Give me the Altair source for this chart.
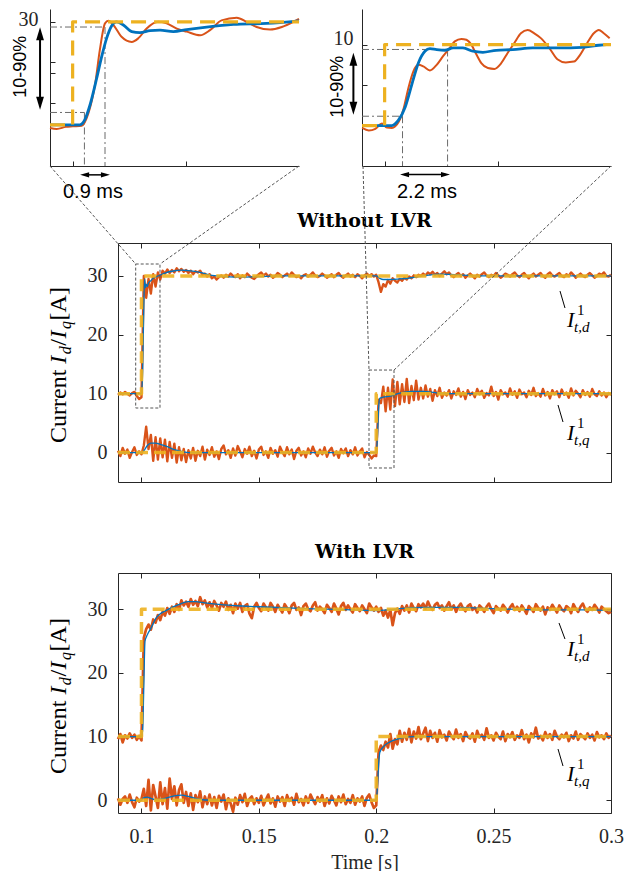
import altair as alt
import pandas as pd

ORANGE = "#D95319"
BLUE = "#0072BD"
YELLOW = "#EDB120"
AXC = "#262626"
DGRAY = "#6b6b6b"
SERIF = "Liberation Serif"
SANS = "Liberation Sans"

# ---------------- data ----------------
# sampling instants of the measured currents (ms)
T_MS = list(range(90, 301))

# Without LVR - measured d current
OD1 = [9.8, 10.2, 9.9, 10.3, 10.0, 9.7, 10.1, 10.3, 9.6, 9.1,
       9.4, 30.0, 26.3, 29.5, 27.0, 30.3, 28.2, 30.6, 29.4, 30.9,
       30.4, 31.1, 30.5, 31.0, 30.6, 31.3, 30.8, 31.2, 30.7, 31.0,
       30.5, 30.9, 30.3, 30.8, 30.6, 30.9, 30.2, 30.4, 29.9, 30.3,
       29.6, 29.9, 29.4, 29.8, 30.1, 29.7, 30.2, 29.9, 30.4, 30.0,
       29.8, 30.3, 29.6, 30.1, 29.8, 30.4, 30.0, 29.7, 29.5, 29.9,
       30.3, 30.6, 30.1, 30.4, 29.9, 30.2, 29.7, 30.0, 30.5, 30.2,
       29.8, 30.1, 30.4, 30.0, 30.6, 30.2, 29.8, 30.0, 29.6, 30.1,
       30.3, 29.9, 30.2, 30.6, 30.1, 29.8, 30.0, 30.4, 30.1, 29.7,
       30.0, 30.3, 29.8, 30.2, 30.5, 30.0, 29.7, 30.1, 30.4, 29.9,
       30.2, 29.8, 30.3, 30.0, 29.6, 30.1, 30.4, 30.0, 30.3, 29.9,
       30.2, 28.9, 27.3, 28.6, 28.2, 29.3, 28.7, 29.6, 29.2, 28.9,
       29.5, 29.2, 29.7, 29.4, 29.9, 29.6, 30.1, 29.8, 30.2, 30.0,
       30.4, 30.1, 30.6, 30.3, 30.7, 30.2, 30.5, 30.0, 30.4, 30.8,
       30.3, 30.6, 30.1, 29.8, 30.2, 30.5, 30.0, 30.3, 29.7, 30.1,
       30.4, 30.0, 29.6, 30.2, 29.9, 30.3, 30.6, 30.1, 29.8, 30.2,
       30.0, 30.5, 30.1, 29.7, 30.0, 30.4, 30.2, 29.9, 30.3, 30.6,
       30.1, 29.8, 30.2, 30.5, 30.0, 29.6, 30.1, 30.4, 29.9, 30.2,
       30.5, 30.0, 29.7, 30.3, 30.6, 30.1, 29.9, 30.2, 30.5, 30.0,
       29.8, 30.3, 30.0, 30.6, 30.2, 29.7, 30.1, 30.4, 30.0, 29.8,
       30.2, 30.5, 30.1, 29.7, 30.0, 30.4, 30.2, 30.6, 30.0, 29.9,
       30.2]

# Without LVR - measured q current
OQ1 = [0.3, -0.6, 0.8, -0.2, 0.5, -0.9, 0.1, 0.9, -0.4, 0.2,
       -0.3, 1.2, 4.4, 0.6, 3.0, -1.4, 2.6, -1.2, 2.4, -0.8,
       2.2, -1.5, 1.8, -0.9, 1.5, -1.7, 0.9, -1.3, 0.6, -1.6,
       0.4, -1.0, 0.8, -1.4, 0.3, -0.6, 1.0, -1.2, 0.5, -0.4,
       0.9, -0.7, 0.2, -1.1, 0.6, 1.2, -0.3, 0.4, -0.9, 0.7,
       -0.5, 1.1, 0.2, -0.8, 0.6, -0.2, 1.0, -0.6, 0.3, -1.0,
       0.5, 1.0, -0.4, 0.2, -0.9, 0.8, -0.2, 0.4, -0.7, 1.0,
       0.1, -0.6, 0.9, -0.3, 0.5, -1.1, 0.3, 0.8, -0.5, 0.2,
       -0.8, 0.7, -0.2, 1.0, 0.0, -0.6, 0.5, -0.3, 0.9, -0.7,
       0.3, 0.8, -0.5, 0.2, -0.9, 0.6, -0.1, 0.7, -0.6, 0.4,
       -0.3, 0.9, -0.5, 0.2, 0.7, -0.8, 0.1, -0.4, -1.0, -0.5,
       -0.6, 9.0, 8.4, 11.2, 7.0, 11.0, 7.3, 12.4, 7.9, 12.0,
       8.2, 11.6, 8.6, 12.5, 8.4, 11.3, 8.9, 12.2, 9.0, 11.0,
       9.2, 11.4, 9.5, 10.8, 8.8, 10.6, 9.6, 11.0, 9.3, 10.2,
       9.7, 10.6, 9.2, 10.4, 9.8, 10.9, 9.5, 10.3, 9.1, 10.6,
       9.8, 10.2, 9.4, 10.8, 9.9, 10.5, 9.3, 10.1, 9.7, 11.2,
       9.6, 10.3, 9.0, 10.6, 9.9, 10.2, 9.5, 10.9, 9.8, 10.4,
       9.3, 10.7, 9.9, 10.2, 9.4, 10.5, 9.8, 11.0, 9.6, 10.1,
       9.5, 10.8, 9.7, 10.3, 9.2, 10.6, 9.9, 10.4, 9.4, 10.7,
       9.8, 10.2, 9.3, 10.9, 9.7, 10.5, 10.0, 9.4, 10.6, 9.8,
       10.3, 9.5, 10.8, 9.9, 9.6, 10.4, 9.7, 10.2, 9.4, 10.1,
       9.8]

# With LVR - measured d current
OD2 = [9.6, 10.4, 9.1, 10.2, 9.7, 10.5, 9.8, 10.3, 9.5, 10.1,
       9.4, 25.5, 26.9, 27.6, 26.8, 28.4, 27.9, 29.1, 28.3, 29.6,
       29.0, 30.2, 29.3, 30.4, 29.6, 30.8, 29.9, 31.4, 30.6, 31.2,
       30.4, 31.6, 30.7, 31.3, 30.5, 31.9, 30.8, 31.4, 30.3, 31.1,
       30.2, 31.3, 30.6, 29.8, 31.0, 30.4, 31.2, 29.9, 30.7, 29.4,
       30.9, 30.1, 31.0, 29.6, 30.5, 30.8, 29.3, 28.6, 30.4, 31.0,
       30.2, 29.7, 30.9, 30.3, 29.8, 31.0, 30.4, 29.6, 30.7, 30.1,
       29.5, 30.8, 30.2, 29.4, 30.6, 31.0, 29.9, 30.3, 29.1, 30.5,
       30.9, 30.0, 29.7, 30.6, 31.1, 29.8, 30.4, 30.0, 29.4, 30.7,
       30.2, 29.6, 30.9, 30.1, 29.2, 30.5, 31.0, 29.9, 30.6, 30.0,
       29.5, 30.8, 30.2, 29.7, 30.6, 30.0, 29.4, 30.9, 30.3, 29.8,
       30.4, 29.6, 30.2, 29.0, 29.8, 28.7, 29.9, 27.5, 29.4, 30.1,
       29.3, 30.5, 29.8, 30.6, 29.5, 30.9, 30.2, 29.7, 30.8, 30.3,
       30.9, 30.1, 31.2, 30.4, 29.9, 30.7, 31.0, 30.2, 30.6, 29.8,
       30.5, 31.1, 30.0, 30.6, 29.6, 30.4, 30.9, 30.1, 29.7, 30.5,
       30.8, 29.9, 30.3, 29.5, 30.6, 30.2, 29.6, 30.4, 30.9, 30.0,
       29.4, 30.5, 30.1, 29.8, 30.7, 30.2, 29.5, 30.3, 30.8, 29.9,
       30.4, 29.7, 30.6, 30.0, 29.3, 30.5, 30.1, 29.6, 30.8, 30.2,
       29.8, 30.4, 29.2, 30.3, 29.9, 30.7, 30.1, 29.5, 30.6, 30.0,
       29.7, 30.5, 30.2, 29.4, 30.8, 30.1, 29.6, 30.4, 30.9, 30.0,
       29.6, 30.3, 29.9, 30.7, 30.2, 29.5, 30.4, 30.0, 29.7, 29.4,
       29.6]

# With LVR - measured q current
OQ2 = [0.3, -0.7, 0.2, 0.6, -0.4, 0.9, -0.3, -1.1, 0.4, -0.2,
       0.2, 1.8, -0.9, 3.2, -1.6, 2.4, 0.6, -1.2, 2.8, -0.6,
       1.9, -1.3, 3.4, 0.2, 2.2, -0.8, 1.6, 2.5, -0.4, 1.3,
       -0.9, 1.1, -1.5, 0.8, -0.3, 1.4, -1.1, 0.6, -0.6, 0.9,
       -0.8, 0.5, -1.2, 0.7, -0.2, 0.9, -1.4, 0.3, -0.5, -1.8,
       0.4, -0.7, 0.8, -0.3, 1.0, -0.9, 0.2, 0.6, -0.6, 0.3,
       -0.4, 0.7, -0.8, 0.1, 0.9, -0.5, 0.3, -1.0, 0.6, -0.2,
       0.5, -0.9, 0.8, -0.1, 0.4, -0.7, 1.0, -0.3, 0.2, -0.8,
       0.6, -0.4, 0.9, 0.1, -0.6, 0.5, -0.2, 0.8, -0.9, 0.3,
       -0.5, 0.7, 0.0, -0.8, 0.6, -0.3, 0.9, -0.6, 0.2, -0.4,
       0.8, -0.7, 0.3, -0.2, 0.6, -0.9, 0.4, 0.9, -0.3, -1.2,
       -0.8, 7.6, 8.6, 7.9, 9.2, 8.3, 10.4, 8.1, 9.6, 8.8,
       10.9, 9.2, 10.6, 9.5, 11.2, 9.1, 10.8, 9.7, 11.5, 9.6,
       10.5, 11.4, 9.3, 10.9, 9.8, 10.6, 9.2, 11.0, 9.9, 10.3,
       9.4, 10.8, 10.1, 9.6, 11.1, 9.8, 10.4, 9.3, 10.7, 10.0,
       9.7, 10.5, 9.2, 10.9, 9.9, 10.3, 9.5, 11.3, 9.8, 10.2,
       9.4, 10.6, 10.0, 9.6, 10.8, 9.3, 10.4, 9.9, 10.7, 9.5,
       10.2, 9.8, 11.0, 9.6, 10.3, 9.1, 10.5, 9.9, 11.4, 9.7,
       10.1, 9.4, 10.7, 9.8, 10.4, 9.5, 10.9, 10.0, 9.6, 10.3,
       9.9, 10.6, 9.3, 10.2, 9.7, 10.8, 9.5, 10.4, 10.0, 9.6,
       10.5, 9.8, 10.3, 9.4, 10.7, 9.9, 10.2, 9.6, 10.5, 9.8,
       10.2]

# filtered (blue) currents
BD1_T = [0.09, 0.1, 0.1005, 0.101, 0.1013, 0.1017, 0.102, 0.1025, 0.103, 0.104, 0.105, 0.107,
         0.11, 0.113, 0.117, 0.12, 0.125, 0.13, 0.14, 0.15, 0.16, 0.17, 0.18, 0.19, 0.2, 0.2015,
         0.203, 0.206, 0.21, 0.215, 0.22, 0.227, 0.235, 0.245, 0.26, 0.28, 0.3]
BD1_V = [10.0, 10.0, 14.0, 25.0, 29.5, 28.0, 28.6, 28.2, 28.8, 29.2, 29.6, 30.0,
         30.5, 30.8, 31.0, 30.9, 30.6, 30.1, 29.8, 29.9, 30.0, 30.0, 30.0, 30.0, 30.0, 29.6,
         29.4, 29.4, 29.5, 29.7, 30.0, 30.3, 30.2, 30.0, 30.0, 30.0, 30.0]
BQ1_T = [0.09, 0.1, 0.101, 0.1025, 0.104, 0.106, 0.108, 0.111, 0.114, 0.118, 0.12, 0.15, 0.2,
         0.2005, 0.201, 0.2015, 0.203, 0.206, 0.21, 0.215, 0.22, 0.225, 0.23, 0.24, 0.25, 0.3]
BQ1_V = [0.0, 0.0, 0.3, 1.2, 1.6, 1.6, 1.4, 1.0, 0.5, 0.1, 0.0, 0.0, 0.0,
         2.5, 7.5, 9.2, 9.4, 9.6, 10.1, 10.4, 10.4, 10.2, 10.0, 10.0, 10.0, 10.0]
BD2_T = [0.09, 0.1, 0.1005, 0.101, 0.1015, 0.1025, 0.104, 0.106, 0.108, 0.11, 0.113, 0.117,
         0.12, 0.123, 0.127, 0.135, 0.15, 0.17, 0.19, 0.2, 0.205, 0.21, 0.22, 0.235, 0.25,
         0.27, 0.29, 0.3]
BD2_V = [10.0, 10.0, 11.0, 18.0, 25.0, 26.0, 27.0, 28.5, 29.3, 29.7, 30.3, 30.9,
         31.2, 31.2, 31.0, 30.7, 30.4, 30.1, 29.9, 29.8, 29.9, 30.1, 30.3, 30.3, 30.1,
         29.9, 29.9, 29.8]
BQ2_T = [0.09, 0.1, 0.101, 0.1025, 0.104, 0.106, 0.11, 0.114, 0.117, 0.12, 0.124, 0.13, 0.2,
         0.2005, 0.201, 0.2015, 0.203, 0.205, 0.208, 0.212, 0.216, 0.3]
BQ2_V = [0.0, 0.0, 0.4, 0.5, 0.3, 0.1, 0.3, 0.7, 0.8, 0.6, 0.2, 0.0, 0.0,
         2.0, 5.5, 7.5, 8.4, 9.0, 9.5, 9.9, 10.0, 10.0]

# references (yellow dashed)
REF_D_T = [0.09, 0.1, 0.1, 0.3]
REF_D_V = [10, 10, 30, 30]
REF_Q_T = [0.09, 0.2, 0.2, 0.3]
REF_Q_V = [0, 0, 10, 10]

# inset 1 (d step, without LVR)
I1O_T = [0.0990, 0.0993, 0.0997, 0.1000, 0.1004, 0.1007, 0.1010, 0.1012, 0.10143, 0.10158,
         0.1018, 0.10216, 0.10261, 0.1029, 0.10327, 0.10378, 0.10415, 0.1046, 0.10504, 0.10563,
         0.10607, 0.10658, 0.10725, 0.10769, 0.10813, 0.10872, 0.10924, 0.10975, 0.1100]
I1O_V = [9.4, 9.2, 9.6, 9.7, 9.8, 12.3, 18.1, 24.5, 29.7, 30.2,
         29.4, 27.1, 26.1, 26.8, 28.7, 30.0, 29.7, 28.7, 28.1, 27.4,
         28.4, 30.3, 30.8, 30.0, 29.0, 28.5, 29.0, 30.0, 30.6]
I1B_T = [0.099, 0.1, 0.10032, 0.10054, 0.10077, 0.10106, 0.10128, 0.1015, 0.10172, 0.10194,
         0.10224, 0.10261, 0.10297, 0.10342, 0.10386, 0.10445, 0.10504, 0.10592, 0.1071,
         0.10857, 0.11]
I1B_V = [10.0, 10.0, 10.0, 11.0, 13.9, 19.0, 23.2, 26.8, 29.2, 30.0,
         29.4, 28.1, 27.9, 28.3, 28.4, 28.1, 28.5, 29.0, 29.5, 29.7, 30.2]
I1R_T = [0.099, 0.1, 0.1, 0.11]
I1R_V = [10, 10, 30, 30]

# inset 2 (q step, without LVR)
I2O_T = [0.19901, 0.1993, 0.19959, 0.19988, 0.2001, 0.20032, 0.20061, 0.20083, 0.20105, 0.20127,
         0.20149, 0.20171, 0.202, 0.2023, 0.20259, 0.20288, 0.2031, 0.20339, 0.20361, 0.20383,
         0.20405, 0.20427, 0.20456, 0.20485, 0.20515, 0.20544, 0.20573, 0.20602, 0.20632, 0.20661,
         0.2069, 0.20727, 0.20763, 0.208, 0.20836, 0.20865, 0.20895, 0.20924, 0.20946, 0.20968,
         0.20994]
I2O_V = [-0.3, -0.6, -0.4, 0.25, -0.25, -0.3, 0.4, 2.0, 4.65, 6.7,
         7.5, 7.3, 6.8, 7.5, 8.6, 9.6, 10.4, 10.7, 10.6, 10.0,
         8.8, 7.7, 7.1, 7.0, 7.7, 9.0, 10.2, 11.4, 11.8, 11.4,
         10.8, 9.6, 8.2, 7.8, 7.9, 8.8, 10.2, 11.4, 11.8, 11.4,
         10.8]
I2B_T = [0.19901, 0.20032, 0.20061, 0.20091, 0.2012, 0.20149, 0.20178, 0.202, 0.2023, 0.20266,
         0.20303, 0.20346, 0.2039, 0.20434, 0.20493, 0.20566, 0.20654, 0.2077, 0.20873, 0.20946,
         0.20994]
I2B_V = [0.0, 0.0, 0.66, 2.3, 5.06, 7.74, 9.18, 9.51, 9.38, 9.3,
         9.59, 9.59, 9.18, 9.05, 9.3, 9.38, 9.59, 9.59, 9.67, 9.92, 10.04]
I2R_T = [0.199, 0.2, 0.2, 0.21]
I2R_V = [0, 0, 10, 10]

# tick values / labels
MAIN_XT = [0.1, 0.15, 0.2, 0.25, 0.3]
MAIN_YT = [0, 10, 20, 30]
I1_XT = [0.1, 0.105]
I1_YT = [14.3, 20.1, 22.2, 30]
I2_XT = [0.2, 0.205]
I2_YT = [0, 5, 10]

for arr in (OD1, OQ1, OD2, OQ2):
    assert len(arr) == len(T_MS), len(arr)
T = [m / 1000.0 for m in T_MS]

# ---------------- scales ----------------
def sc(dom, rng):
    return alt.Scale(domain=dom, range=rng, nice=False, zero=False)

MX = sc([0.09, 0.3], [0, 493])
M1Y = sc([-5, 35.6], [474, 235])
M2Y = sc([-2, 35.7], [805, 565])
I1X = sc([0.099, 0.11], [-68, 181])
I1Y = sc([2.0, 32.5], [158, 1])
I2X = sc([0.199, 0.21], [244, 493])
I2Y = sc([-5, 14.4], [158, 1])

L = []


def add_line(t, v, xs, ys, color, width, dash=None, interp=None, opacity=1.0):
    df = pd.DataFrame({"t": t, "v": v, "i": list(range(len(t)))})
    kw = dict(color=color, strokeWidth=width, opacity=opacity, clip=False, strokeJoin="round")
    if dash is not None:
        kw["strokeDash"] = dash
    if interp is not None:
        kw["interpolate"] = interp
    L.append(alt.Chart(df).mark_line(**kw).encode(
        x=alt.X("t:Q", scale=xs, axis=None),
        y=alt.Y("v:Q", scale=ys, axis=None),
        order=alt.Order("i:Q")))


def add_rules(x, x2, y, y2, xs, ys, color, width, dash=None):
    df = pd.DataFrame({"x": x, "x2": x2, "y": y, "y2": y2})
    kw = dict(color=color, strokeWidth=width, clip=False)
    if dash is not None:
        kw["strokeDash"] = dash
    L.append(alt.Chart(df).mark_rule(**kw).encode(
        x=alt.X("x:Q", scale=xs, axis=None), x2="x2:Q",
        y=alt.Y("y:Q", scale=ys, axis=None), y2="y2:Q"))


def add_box(x, x2, y, y2, xs, ys):
    df = pd.DataFrame({"x": [x], "x2": [x2], "y": [y], "y2": [y2]})
    L.append(alt.Chart(df).mark_rect(fillOpacity=0, stroke="#555555", strokeWidth=1,
                                     strokeDash=[3, 2], clip=False).encode(
        x=alt.X("x:Q", scale=xs, axis=None), x2="x2:Q",
        y=alt.Y("y:Q", scale=ys, axis=None), y2="y2:Q"))


def add_text(t, v, s, xs, ys, **kw):
    df = pd.DataFrame({"t": [t], "v": [v], "s": [s]})
    L.append(alt.Chart(df).mark_text(clip=False, **kw).encode(
        x=alt.X("t:Q", scale=xs, axis=None),
        y=alt.Y("v:Q", scale=ys, axis=None),
        text="s:N"))


HEAD = "M-0.6,1L0,-1L0.6,1Z"


def add_heads(t, v, a, xs, ys, size):
    df = pd.DataFrame({"t": t, "v": v, "a": a})
    L.append(alt.Chart(df).mark_point(shape=HEAD, filled=True, color="black", opacity=1,
                                      size=size, strokeWidth=0, clip=False).encode(
        x=alt.X("t:Q", scale=xs, axis=None),
        y=alt.Y("v:Q", scale=ys, axis=None),
        angle=alt.Angle("a:Q", scale=None)))


def mkaxis(orient, values, offset=0, labels=False, **extra):
    kw = dict(orient=orient, values=values, offset=offset, labels=labels, grid=False,
              ticks=True, tickSize=alt.ExprRef(expr="-5"), tickColor=AXC, tickWidth=1,
              domainColor=AXC, domainWidth=1, labelFont=SERIF, labelFontSize=20,
              labelColor=AXC, labelFlush=False, labelOverlap=False, title=None)
    kw.update(extra)
    return alt.Axis(**kw)


def add_carrier(xs, ys, x0, y0, xaxis, yaxis):
    df = pd.DataFrame({"x": [x0], "y": [y0]})
    L.append(alt.Chart(df).mark_point(opacity=0, size=1).encode(
        x=alt.X("x:Q", scale=xs, axis=xaxis),
        y=alt.Y("y:Q", scale=ys, axis=yaxis)))


# ---------------- insets ----------------
add_carrier(I1X, I1Y, 0.1, 10,
            mkaxis("bottom", I1_XT, offset=158 - 805),
            mkaxis("left", I1_YT, offset=68, labels=True, labelPadding=17, labelOffset=-2,
                   labelExpr="datum.value == 30 ? '30' : ''"))
add_carrier(I2X, I2Y, 0.2, 0,
            mkaxis("bottom", I2_XT, offset=158 - 805),
            mkaxis("left", I2_YT, offset=-244, labels=True, labelPadding=14, labelOffset=-6,
                   labelExpr="datum.value == 10 ? '10' : ''"))

DD = [7, 3, 2, 3]
add_rules([0.099, 0.10052, 0.099, 0.10143], [0.10052, 0.10052, 0.10143, 0.10143],
          [12.4, 12.4, 29.0, 29.0], [12.4, 2.0, 29.0, 2.0], I1X, I1Y, DGRAY, 1, DD)
add_rules([0.199, 0.20079, 0.199, 0.20278], [0.20079, 0.20079, 0.20278, 0.20278],
          [1.15, 1.15, 9.4, 9.4], [1.15, -5, 9.4, -5], I2X, I2Y, DGRAY, 1, DD)

add_line(I1O_T, I1O_V, I1X, I1Y, ORANGE, 2.0, interp="monotone")
add_line(I1B_T, I1B_V, I1X, I1Y, BLUE, 2.8, interp="monotone")
add_line(I1R_T, I1R_V, I1X, I1Y, YELLOW, 3.2, dash=[15, 8])
add_line(I2O_T, I2O_V, I2X, I2Y, ORANGE, 2.0, interp="monotone")
add_line(I2B_T, I2B_V, I2X, I2Y, BLUE, 2.8, interp="monotone")
add_line(I2R_T, I2R_V, I2X, I2Y, YELLOW, 3.2, dash=[15, 8])

# 10-90% arrows and rise-time arrows
add_rules([0.09856], [0.09856], [14.2], [27.7], I1X, I1Y, "black", 2)
add_heads([0.09856, 0.09856], [27.7, 14.2], [0, 180], I1X, I1Y, 169)
add_text(0.09772, 21.3, "10-90%", I1X, I1Y, angle=270, align="center", baseline="middle",
         font=SANS, fontSize=18, color="black")
add_rules([0.10053], [0.10145], [0.28], [0.28], I1X, I1Y, "black", 1.5)
add_heads([0.10053, 0.10145], [0.28, 0.28], [270, 90], I1X, I1Y, 81)
add_text(0.1009, -3.1, "0.9 ms", I1X, I1Y, align="center", baseline="middle",
         font=SANS, fontSize=20, color="black")

add_rules([0.19862], [0.19862], [2.15], [8.2], I2X, I2Y, "black", 2)
add_heads([0.19862, 0.19862], [8.2, 2.15], [0, 180], I2X, I2Y, 169)
add_text(0.19792, 4.8, "10-90%", I2X, I2Y, angle=270, align="center", baseline="middle",
         font=SANS, fontSize=18, color="black")
add_rules([0.20088], [0.20269], [-6.06], [-6.06], I2X, I2Y, "black", 1.5)
add_heads([0.20088, 0.20269], [-6.06, -6.06], [270, 90], I2X, I2Y, 81)
add_text(0.20187, -8.25, "2.2 ms", I2X, I2Y, align="center", baseline="middle",
         font=SANS, fontSize=20, color="black")

# ---------------- main panels ----------------
YPIECES = [("Current ", 24, "normal", 0, 79.3), ("I", 24, "italic", 0, 9.4),
           ("d", 16, "italic", 5, 8.6), ("/", 24, "normal", 0, 7.2),
           ("I", 24, "italic", 0, 9.4), ("q", 16, "italic", 5, 8.6),
           (" [A]", 24, "normal", 0, 39.3)]


def add_ytitle(t, v, ys):
    total = sum(p[4] for p in YPIECES)
    cum = 0.0
    for s, fs, st, dy, w in YPIECES:
        add_text(t, v, s, MX, ys, angle=270, align="left", baseline="alphabetic",
                 dx=cum - total / 2, dy=dy, font=SERIF, fontSize=fs, fontStyle=st,
                 color="black")
        cum += w


def add_curlabel(t, v, sub, ys, lead):
    add_rules([lead[0]], [lead[1]], [lead[2]], [lead[3]], MX, ys, "black", 1)
    add_text(t, v, "I", MX, ys, align="left", baseline="alphabetic", font=SERIF,
             fontSize=22, fontStyle="italic", color="black")
    add_text(t, v, "1", MX, ys, align="left", baseline="alphabetic", font=SERIF,
             fontSize=15, dx=10, dy=-12, color="black")
    add_text(t, v, sub, MX, ys, align="left", baseline="alphabetic", font=SERIF,
             fontSize=15, fontStyle="italic", dx=7, dy=5, color="black")


# Without LVR
add_carrier(MX, M1Y, 0.2, 0,
            mkaxis("bottom", MAIN_XT, offset=474 - 805),
            mkaxis("left", MAIN_YT, labels=True, labelPadding=16))
add_carrier(MX, M1Y, 0.2, 0,
            mkaxis("top", MAIN_XT, offset=-235),
            mkaxis("right", MAIN_YT))
add_line(T, OD1, MX, M1Y, ORANGE, 2.4)
add_line(T, OQ1, MX, M1Y, ORANGE, 2.4)
add_line(BD1_T, BD1_V, MX, M1Y, BLUE, 1.3, interp="monotone")
add_line(BQ1_T, BQ1_V, MX, M1Y, BLUE, 1.3, interp="monotone")
add_line(REF_D_T, REF_D_V, MX, M1Y, YELLOW, 3.5, dash=[12, 6], opacity=0.9)
add_line(REF_Q_T, REF_Q_V, MX, M1Y, YELLOW, 3.5, dash=[12, 6], opacity=0.9)
add_box(0.09754, 0.10789, 7.57, 32.03, MX, M1Y)
add_box(0.19692, 0.20757, -2.62, 14.02, MX, M1Y)
add_text(0.195, 39.3, "Without LVR", MX, M1Y, align="center", baseline="middle",
         font="DejaVu Serif", fontSize=19, fontWeight="bold", color="black")
add_ytitle(0.06785, 15.38, M1Y)
add_curlabel(0.28126, 21.33, "t,d", M1Y, (0.27828, 0.2804, 27.44, 24.56))
add_curlabel(0.28126, 2.13, "t,q", M1Y, (0.27743, 0.27956, 8.08, 5.19))

# With LVR
add_carrier(MX, M2Y, 0.2, 0,
            mkaxis("bottom", MAIN_XT, labels=True, labelPadding=18, format="~g",
                   title="Time [s]", titleFont=SERIF, titleFontSize=20,
                   titleFontWeight="normal", titleColor=AXC, titlePadding=6),
            mkaxis("left", MAIN_YT, labels=True, labelPadding=16))
add_carrier(MX, M2Y, 0.2, 0,
            mkaxis("top", MAIN_XT, offset=-565),
            mkaxis("right", MAIN_YT))
add_line(T, OD2, MX, M2Y, ORANGE, 2.7)
add_line(T, OQ2, MX, M2Y, ORANGE, 2.7)
add_line(BD2_T, BD2_V, MX, M2Y, BLUE, 1.3, interp="monotone")
add_line(BQ2_T, BQ2_V, MX, M2Y, BLUE, 1.3, interp="monotone")
add_line(REF_D_T, REF_D_V, MX, M2Y, YELLOW, 3.5, dash=[12, 6], opacity=0.9)
add_line(REF_Q_T, REF_Q_V, MX, M2Y, YELLOW, 3.5, dash=[12, 6], opacity=0.9)
add_text(0.195, 39.0, "With LVR", MX, M2Y, align="center", baseline="middle",
         font="DejaVu Serif", fontSize=19, fontWeight="bold", color="black")
add_ytitle(0.06785, 16.85, M2Y)
add_curlabel(0.28126, 22.66, "t,d", M2Y, (0.27785, 0.2804, 27.85, 25.33))
add_curlabel(0.28126, 3.03, "t,q", M2Y, (0.27743, 0.27956, 8.05, 5.38))

# zoom connectors (inset corners -> boxes)
add_rules([0.06103, 0.1671, 0.19436, 0.3], [0.09754, 0.10789, 0.19692, 0.20757],
          [48.68, 48.68, 48.68, 48.68], [32.03, 32.03, 14.02, 14.02],
          MX, M1Y, "#555555", 1, [3, 2])

chart = alt.layer(*L).resolve_scale(x="independent", y="independent").properties(
    width=493, height=805,
    autosize=alt.AutoSizeParams(type="none"),
    padding={"left": 110, "top": 0, "right": 20, "bottom": 58},
).configure_view(stroke=None)

chart.save("out.html", embed_options={"renderer": "svg", "actions": False})
